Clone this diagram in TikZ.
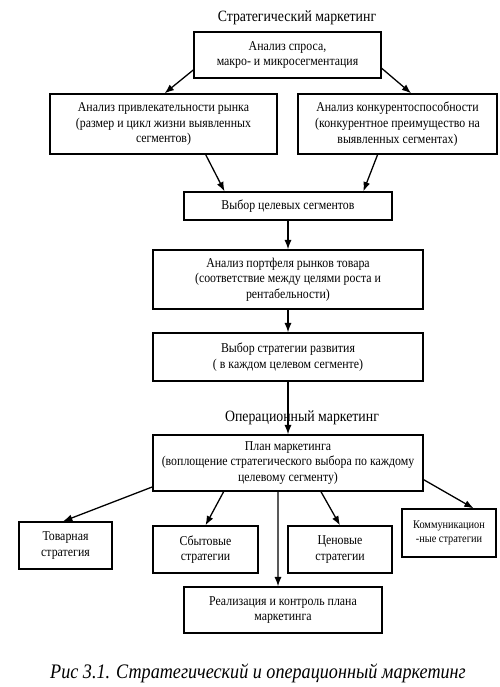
\documentclass[tikz,border=0pt]{standalone}
\usepackage{fontspec}
\setmainfont{Liberation Serif}[FakeStretch=0.88]
\usetikzlibrary{arrows.meta}

\begin{document}
\begin{tikzpicture}[x=0.03cm, y=-0.03cm, thick]
	% Стили блоков, стрелок и заголовков
	\tikzset{blok/.style={rectangle, draw, line width=1.1pt, align=center, inner sep=1pt, font=\fontsize{11.5}{13.4}\selectfont},
		strelka/.style={-{Latex[length=8pt, width=6pt]}, line width=1.1pt},
		zagolovok/.style={font=\fontsize{13.4}{15}\selectfont}}
	\useasboundingbox (0,0) rectangle (500,687);
	
	% Стратегический маркетинг
	\node[zagolovok] (strat) at (297,18) {Стратегический маркетинг};
	\node[blok, minimum width=5.61cm, minimum height=1.38cm] (spros) at (287.5,55) {Анализ спроса,\\ макро- и микросегментация};
	\node[blok, minimum width=6.81cm, minimum height=1.8cm] (privl) at (163.5,124) {Анализ привлекательности рынка\\ (размер и цикл жизни выявленных\\ сегментов)};
	\node[blok, minimum width=5.97cm, minimum height=1.8cm] (konk) at (397.5,124) {Анализ конкурентоспособности\\ (конкурентное преимущество на\\ выявленных сегментах)};
	\node[blok, minimum width=6.24cm, minimum height=0.84cm] (vybor) at (288,206) {Выбор целевых сегментов};
	\node[blok, minimum width=8.1cm, minimum height=1.77cm] (portf) at (288,279.5) {Анализ портфеля рынков товара\\ (соответствие между целями роста и\\ рентабельности)};
	\node[blok, minimum width=8.1cm, minimum height=1.44cm] (razv) at (288,357) {Выбор стратегии развития\\ ( в каждом целевом сегменте)};
	
	% Операционный маркетинг
	\node[zagolovok] (oper) at (302,418) {Операционный маркетинг};
	\node[blok, minimum width=8.1cm, minimum height=1.68cm] (plan) at (288,463) {План маркетинга\\ (воплощение стратегического выбора по каждому\\ целевому сегменту)};
	\node[blok, minimum width=2.79cm, minimum height=1.41cm] (tovar) at (65.5,545.5) {Товарная\\ стратегия};
	\node[blok, minimum width=3.15cm, minimum height=1.41cm] (sbyt) at (205.5,549.5) {Сбытовые\\ стратегии};
	\node[blok, minimum width=3.12cm, minimum height=1.41cm] (cena) at (340,549.5) {Ценовые\\ стратегии};
	\node[blok, minimum width=2.82cm, minimum height=1.44cm, font=\fontsize{10}{11.5}\selectfont] (komm) at (449,533) {Коммуникацион\\ -ные стратегии};
	\node[blok, minimum width=5.94cm, minimum height=1.38cm] (kontr) at (283,610) {Реализация и контроль плана\\ маркетинга};
	
	\node[font=\fontsize{17.6}{20}\selectfont\itshape] (podpis) at (258,673) {Рис 3.1. Стратегический и операционный маркетинг};
	
	\draw[strelka] (spros.189) -- (privl.88);
	\draw[strelka] (spros.-8) -- (konk.66);
	\draw[strelka] (privl.-36) -- (vybor.167);
	\draw[strelka] (konk.237) -- (vybor.11);
	\draw[strelka] (vybor) -- (portf);
	\draw[strelka] (portf) -- (razv);
	\draw[strelka] (razv) -- (plan);
	\draw[strelka] (plan.190) -- (tovar.96);
	\draw[strelka] (plan.204) -- (sbyt.north);
	\draw[strelka] ([xshift=-0.3cm]plan.south) -- ([xshift=-0.15cm]kontr.north);
	\draw[strelka] (plan.-41) -- (cena.north);
	\draw[strelka] (plan.-7) -- (komm.45);
\end{tikzpicture}
\end{document}
